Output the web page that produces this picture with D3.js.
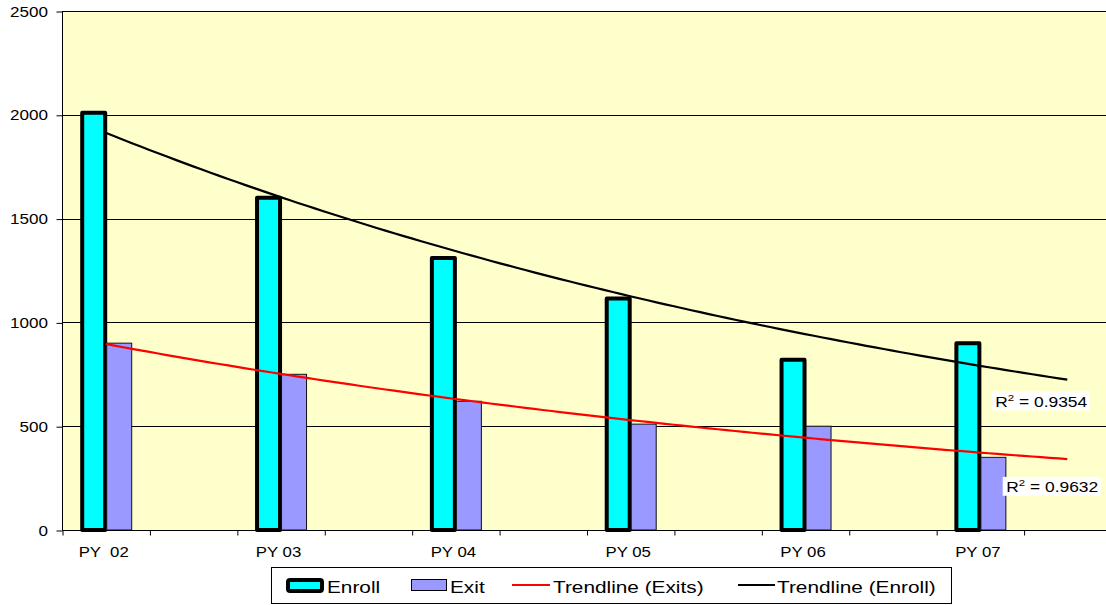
<!DOCTYPE html>
<html>
<head>
<meta charset="utf-8">
<script src="https://cdn.jsdelivr.net/npm/d3@7"></script>
<style>
  html, body { margin: 0; padding: 0; background: #fff; }
  svg { display: block; font-family: "Liberation Sans", Arial, sans-serif; }
  svg text { white-space: pre; }
</style>
</head>
<body>
<svg id="chart" width="1106" height="605"></svg>
<script>
// Program years and yearly counts
const categories = ["PY  02", "PY 03", "PY 04", "PY 05", "PY 06", "PY 07"];
const enroll = [2010, 1600, 1310, 1115, 820, 900];
const exits = [900, 750, 620, 510, 500, 350];
const yTicks = [0, 500, 1000, 1500, 2000, 2500];
const r2Enroll = "0.9354";
const r2Exit = "0.9632";
const legendItems = ["Enroll", "Exit", "Trendline (Exits)", "Trendline (Enroll)"];

const svg = d3.select("#chart");
const plot = { left: 62, top: 11, right: 1111, bottom: 530 };

// Each year occupies two slots; only every other slot carries bars.
const slots = categories.length * 2;
const x = d3.scaleLinear().domain([0, slots]).range([plot.left, plot.right]);
const y = d3.scaleLinear().domain([0, 2500]).range([plot.bottom, plot.top]);
const center = i => x(2 * i + 0.5);

// Horizontally stretched text helper
function stext(parent, tx, ty, str, size, sx, anchor) {
  const g = parent.append("g").attr("transform", `translate(${tx},${ty}) scale(${sx},1)`);
  const t = g.append("text").attr("font-size", size).attr("fill", "#000")
    .attr("xml:space", "preserve")
    .attr("text-anchor", anchor || "start").text(str);
  return { g, t };
}

// Plot background
svg.append("rect")
  .attr("x", plot.left).attr("y", plot.top)
  .attr("width", plot.right - plot.left).attr("height", plot.bottom - plot.top)
  .attr("fill", "#FFFFCC");

// Gridlines
svg.append("g").selectAll("line").data(yTicks.filter(d => d > 0)).join("line")
  .attr("x1", plot.left).attr("x2", plot.right)
  .attr("y1", d => Math.round(y(d)) + 0.5).attr("y2", d => Math.round(y(d)) + 0.5)
  .attr("stroke", "#000").attr("stroke-width", 1);

// Y axis
const yAxis = d3.axisLeft(y).tickValues(yTicks).tickSize(6).tickFormat("");
const yg = svg.append("g").attr("transform", `translate(${plot.left + 0.5},0.5)`).call(yAxis);
yg.selectAll("path, line").attr("stroke", "#000");
yg.select(".domain").attr("d", `M0,${y(2500)}V${y(0)}`);
yTicks.forEach(v => stext(svg, 48, y(v) + 5.5, String(v), 14, 1.22, "end"));

// Bars: Enroll
svg.append("g").selectAll("rect").data(enroll).join("rect")
  .attr("x", (d, i) => center(i) - 23.5)
  .attr("y", d => y(d))
  .attr("width", 23)
  .attr("height", d => y(0) - y(d))
  .attr("fill", "#00FFFF")
  .attr("stroke", "#000").attr("stroke-width", 4)
  .attr("stroke-linejoin", "round");

// Bars: Exit
svg.append("g").selectAll("rect").data(exits).join("rect")
  .attr("x", (d, i) => center(i) + 1)
  .attr("y", d => y(d))
  .attr("width", 25)
  .attr("height", d => y(0) - y(d))
  .attr("fill", "#9999FF")
  .attr("stroke", "#111").attr("stroke-width", 1);

// X axis
const xAxis = d3.axisBottom(x).tickValues(d3.range(0, slots + 1)).tickSize(5).tickFormat("");
const xg = svg.append("g").attr("transform", `translate(0.5,${Math.round(y(0)) + 0.5})`).call(xAxis);
xg.selectAll("path, line").attr("stroke", "#000");
xg.select(".domain").attr("d", `M${plot.left},0H${plot.right}`);
categories.forEach((c, i) => stext(svg, center(i) - 2, 557, c, 15, 1.12, "middle"));

// Exponential trendline fitted on ln(y) against period number 1..n
function expFit(vals) {
  const xs = vals.map((_, i) => i + 1);
  const ls = vals.map(v => Math.log(v));
  const mx = d3.mean(xs), ml = d3.mean(ls);
  const b = d3.sum(xs, (xv, i) => (xv - mx) * (ls[i] - ml)) / d3.sum(xs, xv => (xv - mx) ** 2);
  const a = Math.exp(ml - b * mx);
  return t => a * Math.exp(b * t);
}
const periodX = t => x(2 * (t - 1) + 0.5);
function trendPath(vals) {
  const f = expFit(vals);
  const ts = d3.range(1, 6.5 + 1e-9, 0.05);
  return { d: d3.line().x(t => periodX(t)).y(t => y(f(t)))(ts), end: [periodX(6.5), y(f(6.5))] };
}
const trExit = trendPath(exits);
const trEnroll = trendPath(enroll);
svg.append("path").attr("d", trExit.d).attr("fill", "none").attr("stroke", "#FF0000").attr("stroke-width", 2.2);
svg.append("path").attr("d", trEnroll.d).attr("fill", "none").attr("stroke", "#000").attr("stroke-width", 2.2);

// R² labels with white backgrounds
function r2Label(px, py, val) {
  const g = svg.append("g").attr("transform", `translate(${px},${py}) scale(1.2,1)`);
  const bg = g.append("rect").attr("fill", "#fff");
  const t = g.append("text").attr("font-size", 14.5).attr("fill", "#000");
  t.append("tspan").text("R");
  t.append("tspan").attr("font-size", 9.5).attr("dy", -6).text("2");
  t.append("tspan").attr("dy", 6).text(" = " + val);
  const bb = t.node().getBBox();
  bg.attr("x", bb.x - 3).attr("y", bb.y - 1).attr("width", bb.width + 5).attr("height", bb.height + 2);
}
r2Label(trEnroll.end[0] - 72, trEnroll.end[1] + 27, r2Enroll);
r2Label(trExit.end[0] - 61, trExit.end[1] + 33, r2Exit);

// Legend
const lg = svg.append("g");
lg.append("rect").attr("x", 271.5).attr("y", 567.5).attr("width", 680).attr("height", 36)
  .attr("fill", "#fff").attr("stroke", "#000").attr("stroke-width", 1);
lg.append("rect").attr("x", 288).attr("y", 580).attr("width", 34).attr("height", 11).attr("rx", 2)
  .attr("fill", "#00FFFF").attr("stroke", "#000").attr("stroke-width", 4);
stext(lg, 327, 593, legendItems[0], 16, 1.3);
lg.append("rect").attr("x", 411.5).attr("y", 579.5).attr("width", 35).attr("height", 11)
  .attr("fill", "#9999FF").attr("stroke", "#000").attr("stroke-width", 1);
stext(lg, 450, 593, legendItems[1], 16, 1.3);
lg.append("line").attr("x1", 512).attr("x2", 550).attr("y1", 585).attr("y2", 585)
  .attr("stroke", "#FF0000").attr("stroke-width", 2);
stext(lg, 553, 593, legendItems[2], 16, 1.3);
lg.append("line").attr("x1", 738).attr("x2", 775).attr("y1", 585).attr("y2", 585)
  .attr("stroke", "#000").attr("stroke-width", 2);
stext(lg, 777, 593, legendItems[3], 16, 1.3);
</script>
</body>
</html>
